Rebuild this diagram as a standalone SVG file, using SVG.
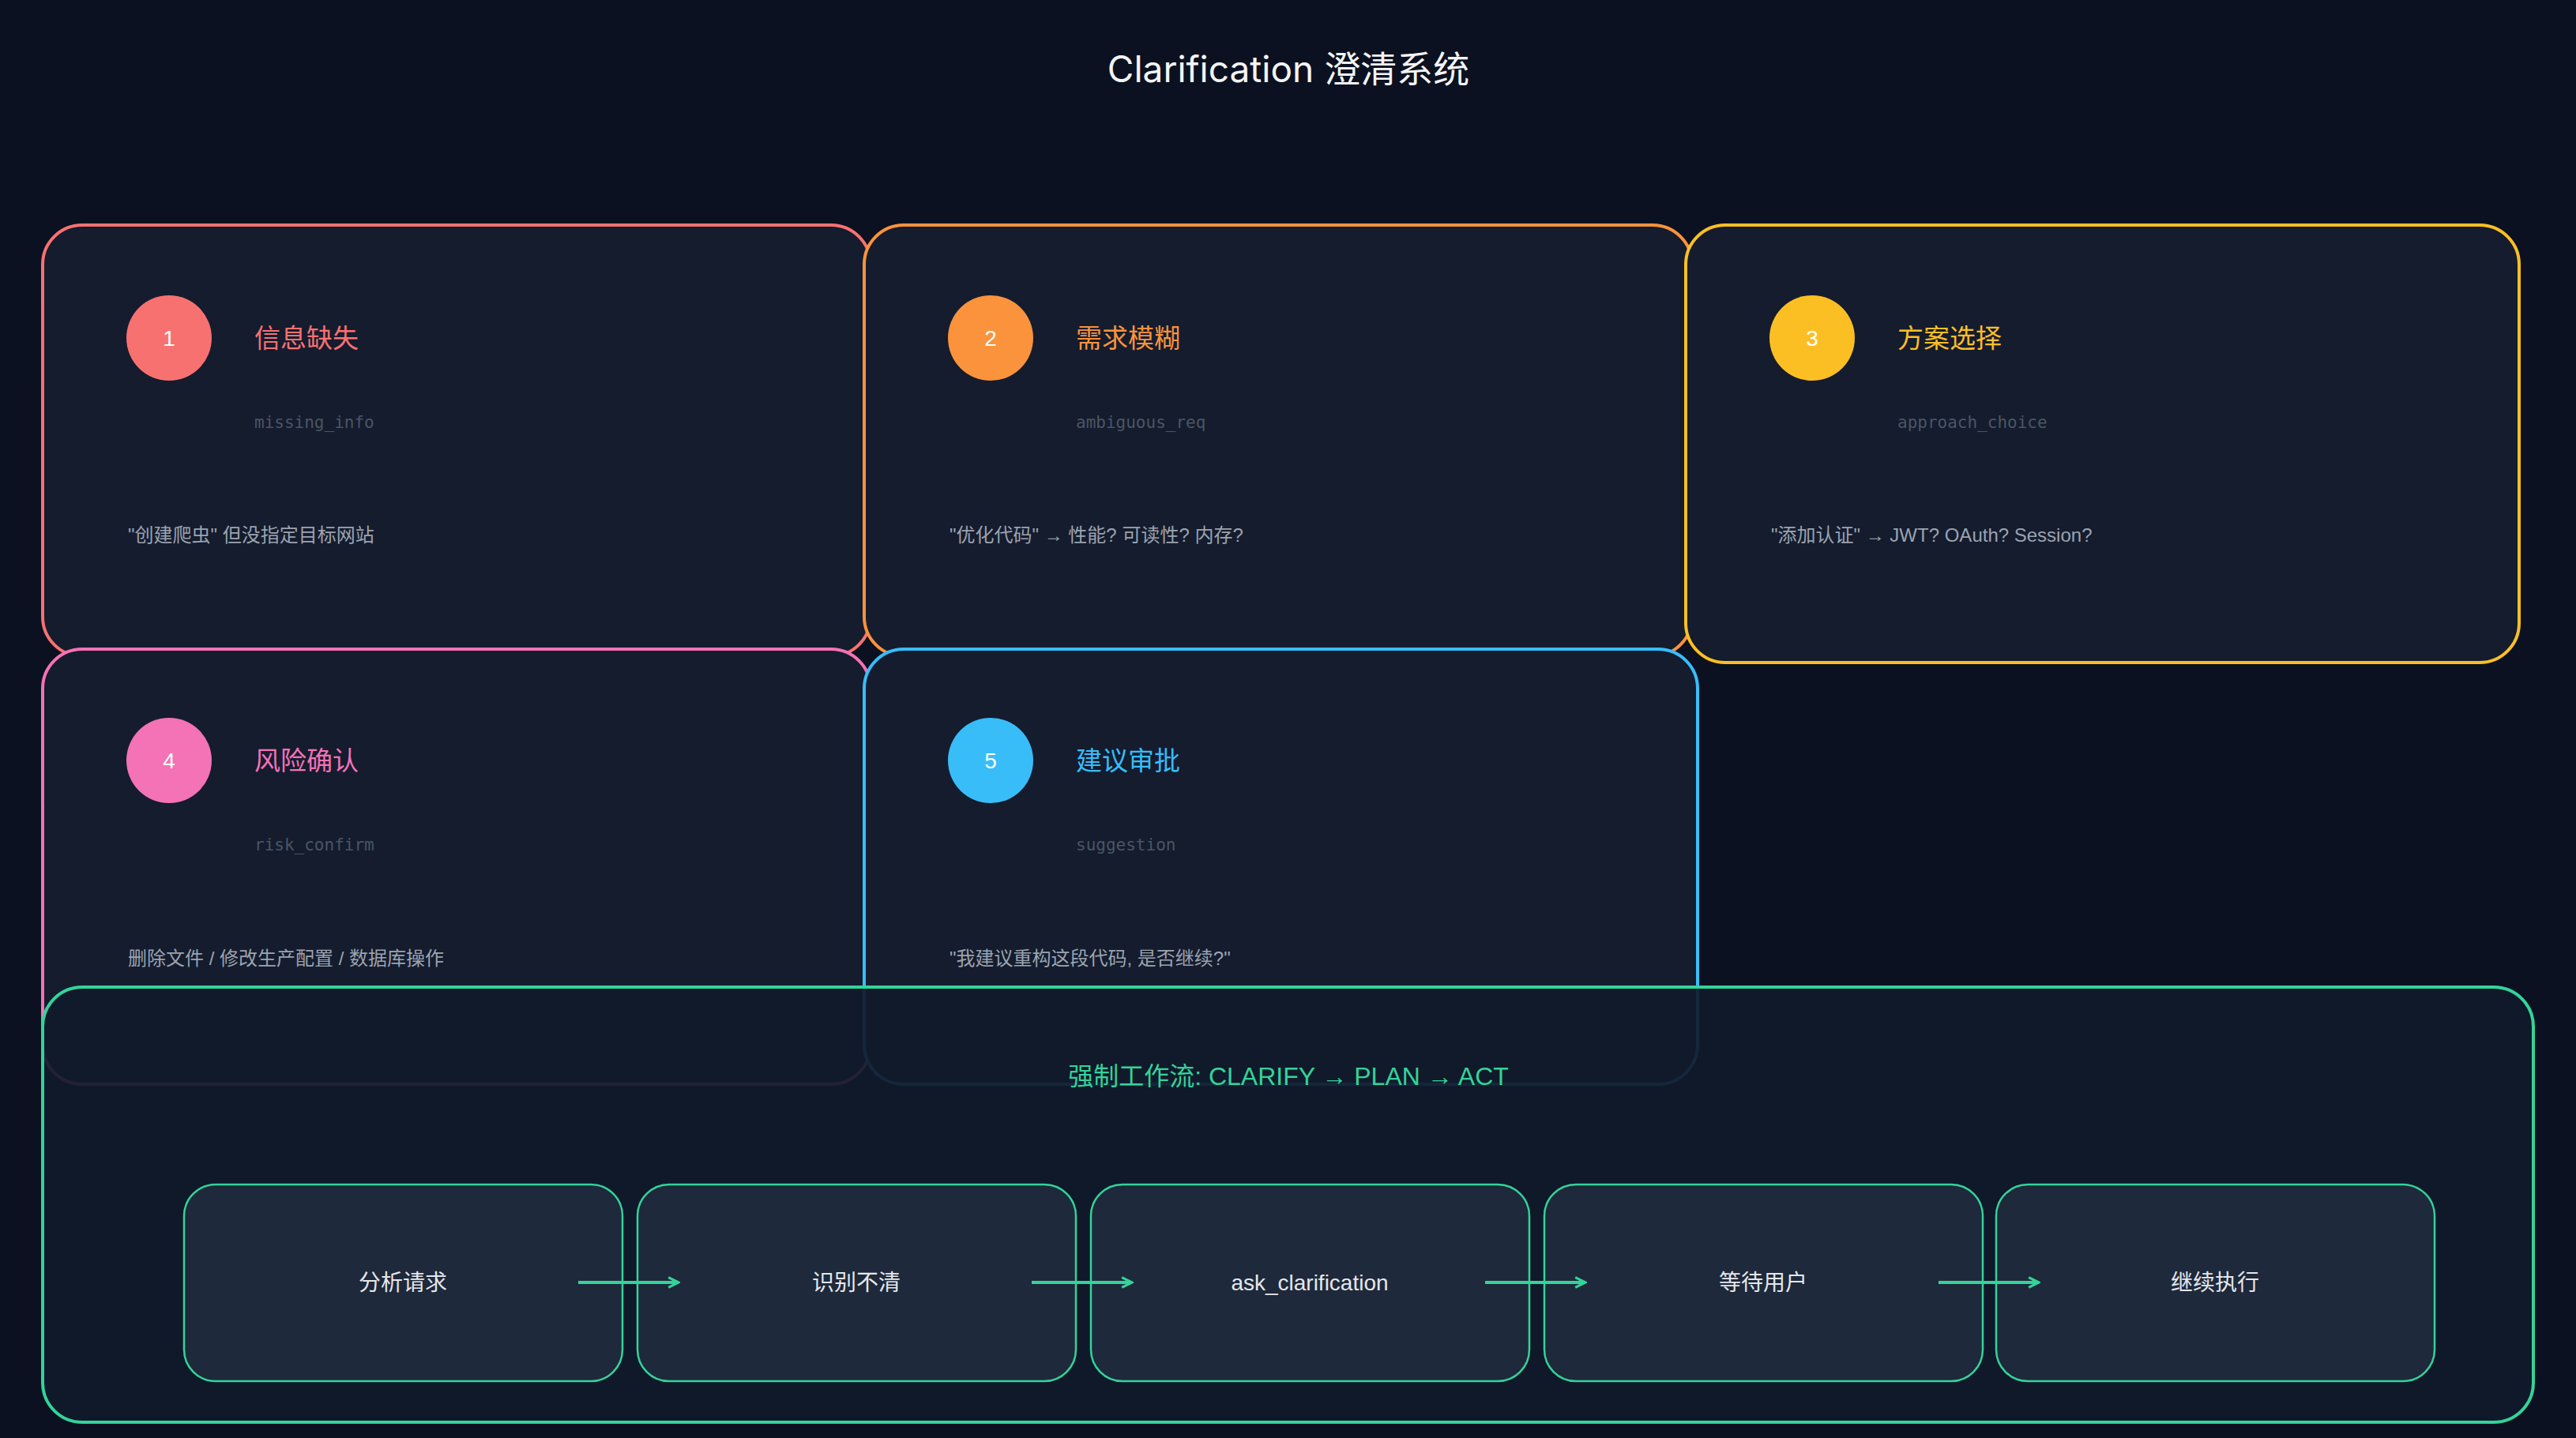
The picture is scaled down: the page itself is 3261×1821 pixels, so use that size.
<svg xmlns="http://www.w3.org/2000/svg" width="3261" height="1821" viewBox="0 0 3261 1821">
<defs>
<marker id="ah" viewBox="0 0 10 10" refX="9" refY="5" markerWidth="4" markerHeight="4" orient="auto"><path d="M1,1 L9,5 L1,9" fill="none" stroke="#34d399" stroke-width="2"/></marker>
<style>
.card{fill:#141c2e;stroke-width:4}
.num{font-family:"Liberation Sans","Noto Sans CJK SC",sans-serif;font-size:28px;fill:#fff;text-anchor:middle}
.ttl{font-family:"Noto Sans CJK SC",sans-serif;font-size:33px}
.code{font-family:"DejaVu Sans Mono","Liberation Mono",monospace;font-size:21px;fill:#4b5563}
.desc{font-family:"Liberation Sans","Noto Sans CJK SC",sans-serif;font-size:24px;fill:#9ca3af}
.step{fill:#1e293b;stroke:#34d399;stroke-width:2.5}
.st{font-family:"Liberation Sans","Noto Sans CJK SC",sans-serif;font-size:28px;fill:#e5e7eb;text-anchor:middle}
</style>
</defs>
<rect width="3261" height="1821" fill="#0b1120"/>
<text x="1631" y="104" text-anchor="middle" font-family="Inter,'Noto Sans CJK SC',sans-serif" font-size="46" fill="#f3f4f6">Clarification 澄清系统</text>
<g id="card1"><rect class="card" x="54" y="285" width="1048" height="546" rx="50" stroke="#f87171"/><circle cx="214" cy="428" r="54" fill="#f87171"/><text class="num" x="214" y="438">1</text><text class="ttl" x="322" y="440" fill="#f87171">信息缺失</text><text class="code" x="322" y="542">missing_info</text><text class="desc" x="162" y="686">"创建爬虫" 但没指定目标网站</text></g>
<g id="card2"><rect class="card" x="1094" y="285" width="1048" height="546" rx="50" stroke="#fb923c"/><circle cx="1254" cy="428" r="54" fill="#fb923c"/><text class="num" x="1254" y="438">2</text><text class="ttl" x="1362" y="440" fill="#fb923c">需求模糊</text><text class="code" x="1362" y="542">ambiguous_req</text><text class="desc" x="1202" y="686">"优化代码" → 性能? 可读性? 内存?</text></g>
<g id="card3"><rect class="card" x="2134" y="285" width="1055" height="554" rx="50" stroke="#fbbf24"/><circle cx="2294" cy="428" r="54" fill="#fbbf24"/><text class="num" x="2294" y="438">3</text><text class="ttl" x="2402" y="440" fill="#fbbf24">方案选择</text><text class="code" x="2402" y="542">approach_choice</text><text class="desc" x="2242" y="686">"添加认证" → JWT? OAuth? Session?</text></g>
<g id="card4"><rect class="card" x="54" y="822" width="1048" height="551" rx="50" stroke="#f472b6"/><circle cx="214" cy="963" r="54" fill="#f472b6"/><text class="num" x="214" y="973">4</text><text class="ttl" x="322" y="975" fill="#f472b6">风险确认</text><text class="code" x="322" y="1077">risk_confirm</text><text class="desc" x="162" y="1222">删除文件 / 修改生产配置 / 数据库操作</text></g>
<g id="card5"><rect class="card" x="1094" y="822" width="1055" height="551" rx="50" stroke="#38bdf8"/><circle cx="1254" cy="963" r="54" fill="#38bdf8"/><text class="num" x="1254" y="973">5</text><text class="ttl" x="1362" y="975" fill="#38bdf8">建议审批</text><text class="code" x="1362" y="1077">suggestion</text><text class="desc" x="1202" y="1222">"我建议重构这段代码, 是否继续?"</text></g>
<g id="workflow"><rect x="54" y="1250" width="3153" height="551" rx="50" fill="#111a2b" fill-opacity="0.92" stroke="#34d399" stroke-width="4"/><text x="1631" y="1374" text-anchor="middle" font-family="Liberation Sans,'Noto Sans CJK SC',sans-serif" font-size="32" fill="#34d399">强制工作流: CLARIFY → PLAN → ACT</text></g>
<g id="s1"><rect class="step" x="233" y="1500" width="555" height="249" rx="40"/><text class="st" x="510" y="1634">分析请求</text></g>
<g id="s2"><rect class="step" x="807" y="1500" width="555" height="249" rx="40"/><text class="st" x="1084" y="1634">识别不清</text></g>
<g id="s3"><rect class="step" x="1381" y="1500" width="555" height="249" rx="40"/><text class="st" x="1658" y="1634">ask_clarification</text></g>
<g id="s4"><rect class="step" x="1955" y="1500" width="555" height="249" rx="40"/><text class="st" x="2232" y="1634">等待用户</text></g>
<g id="s5"><rect class="step" x="2527" y="1500" width="555" height="249" rx="40"/><text class="st" x="2804" y="1634">继续执行</text></g>
<g id="connectors" stroke="#34d399" stroke-width="4" marker-end="url(#ah)">
<line x1="732" y1="1624" x2="859" y2="1624"/><line x1="1306" y1="1624" x2="1433" y2="1624"/><line x1="1880" y1="1624" x2="2007" y2="1624"/><line x1="2454" y1="1624" x2="2581" y2="1624"/>
</g>
</svg>
